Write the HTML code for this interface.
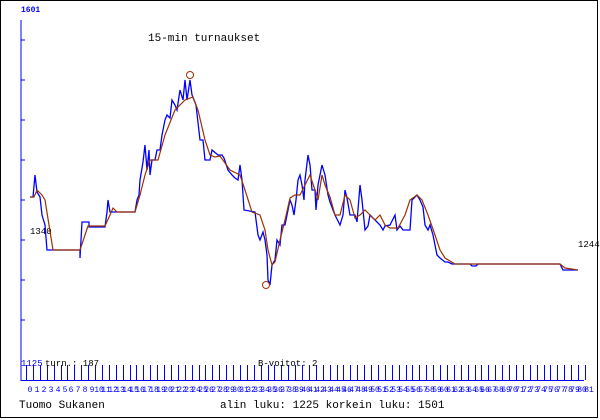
<!DOCTYPE html>
<html><head><meta charset="utf-8"><style>
html,body{margin:0;padding:0;background:#fff}
svg{display:block}
text{font-family:"Liberation Mono","DejaVu Sans Mono",monospace}
</style></head><body>
<svg width="600" height="420" viewBox="0 0 600 420" xmlns="http://www.w3.org/2000/svg">
<rect x="0.5" y="0.5" width="597" height="417" fill="#fff" stroke="#000"/>
<text x="21" y="12" font-size="8" fill="#0000ff" font-weight="bold">1601</text>
<line x1="21" y1="20" x2="21" y2="381" stroke="#0000ff"/>
<g stroke="#0000ff">
<line x1="21" y1="40" x2="25" y2="40"/><line x1="21" y1="80" x2="25" y2="80"/>
<line x1="21" y1="120" x2="25" y2="120"/><line x1="21" y1="160" x2="25" y2="160"/>
<line x1="21" y1="200" x2="25" y2="200"/><line x1="21" y1="240" x2="25" y2="240"/>
<line x1="21" y1="280" x2="25" y2="280"/><line x1="21" y1="320" x2="25" y2="320"/>
<line x1="21" y1="380.5" x2="584" y2="380.5"/>
</g>
<g id="ticks" stroke="#0000ff"></g>
<g id="tl" font-size="8" fill="#0000ff" text-anchor="middle"></g>
<text x="148" y="41" font-size="11" fill="#000">15-min turnaukset</text>
<text x="30" y="234" font-size="9" fill="#000">1340</text>
<text x="578" y="247" font-size="9" fill="#000">1244</text>
<text x="21" y="366" font-size="9" fill="#0000ff">1125</text>
<text x="45" y="366" font-size="9" fill="#000">turn.: 187</text>
<text x="258" y="366" font-size="9" fill="#000">B-voitot: 2</text>
<text x="19" y="408" font-size="11" fill="#000">Tuomo Sukanen</text>
<text x="220" y="408" font-size="11" fill="#000">alin luku: 1225  korkein luku: 1501</text>
<polyline fill="none" stroke="#0000ff" stroke-width="1.3" points="30,197 33,197 35,175 37,192 40,197 42,215 45,225 47,250 80,250 80,258 82,222 89,222 89,227 105,227 107,212 108,200 110,212 135,212 137,200 139,195 140,180 143,162 145,145 147,170 149,150 150,175 152,160 155,160 157,150 160,150 162,135 165,120 167,115 170,118 172,100 175,105 177,110 180,90 183,100 185,80 187,100 190,80 192,95 196,105 200,140 203,140 205,160 210,160 212,150 218,155 222,155 224,158 228,170 232,175 235,178 238,180 240,165 242,180 244,210 255,212 258,235 260,240 263,232 265,240 267,255 268,280 270,285 272,265 275,260 277,240 280,245 282,225 285,225 287,215 290,200 292,205 294,215 296,200 298,180 300,175 302,185 304,200 305,180 308,155 310,165 312,190 315,190 316,210 318,185 320,175 322,165 325,175 328,195 330,202 333,210 335,215 340,225 343,215 345,190 347,198 350,215 355,215 357,222 360,185 362,200 365,230 368,226 370,215 375,220 380,225 383,230 385,226 390,225 395,215 397,230 400,226 403,230 410,230 412,200 417,195 420,200 423,207 425,225 428,230 430,225 433,235 437,255 440,258 445,262 448,262 452,264 470,264 472,266 476,266 478,264 482,264 560,264 563,270 565,270 570,270 578,270"/>
<polyline fill="none" stroke="#993300" stroke-width="1.2" points="30,197 34,197 37,190 42,195 45,200 49,225 53,250 80,250 84,238 88,226 105,226 110,215 113,208 117,212 135,212 140,195 145,175 150,160 158,160 165,135 175,110 185,100 193,97 198,110 205,140 210,155 215,157 220,156 230,170 240,175 245,190 252,212 260,215 265,230 268,250 272,265 275,262 280,240 285,220 290,198 295,195 300,195 305,185 310,175 315,190 318,200 322,175 325,185 330,197 335,215 340,215 345,195 350,200 355,218 360,215 365,210 370,215 375,220 380,215 385,225 390,228 398,228 405,215 410,200 417,195 422,200 428,215 435,235 440,250 445,258 455,264 560,264 565,268 578,270"/>
<circle cx="190" cy="75" r="3.5" fill="none" stroke="#993300"/>
<circle cx="266" cy="285" r="3.5" fill="none" stroke="#993300"/>
</svg>
<script>
var t=document.getElementById('ticks'),l=document.getElementById('tl'),ns='http://www.w3.org/2000/svg';
for(var i=0;i<82;i++){var x=Math.round(26+6.9*i)+0.5;
var ln=document.createElementNS(ns,'line');ln.setAttribute('x1',x);ln.setAttribute('x2',x);ln.setAttribute('y1',365);ln.setAttribute('y2',380);t.appendChild(ln);
var tx=document.createElementNS(ns,'text');tx.setAttribute('x',x+3.5);tx.setAttribute('y',392);tx.textContent=String(i);l.appendChild(tx);}
</script>
</body></html>
